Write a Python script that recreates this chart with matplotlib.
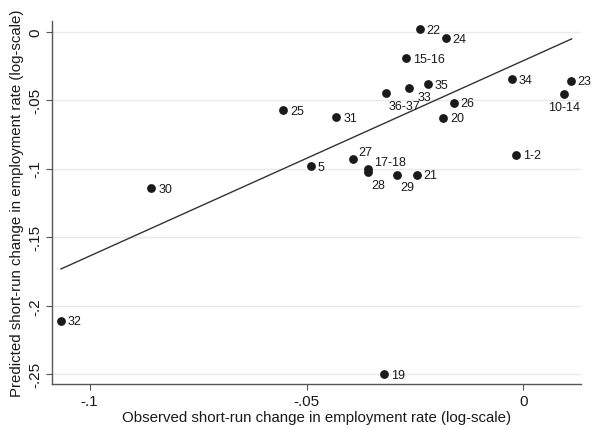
import matplotlib
matplotlib.use("Agg")
import matplotlib.pyplot as plt

plt.rcParams['font.family'] = ['Liberation Sans', 'DejaVu Sans']

# industry groups: observed vs predicted short-run change (log-scale)
labels = ['22', '24', '15-16', '35', '33', '36-37', '34', '23', '10-14', '26',
          '20', '25', '31', '27', '5', '17-18', '28', '29', '21', '1-2',
          '30', '32', '19']
observed = [-0.0239, -0.0179, -0.0271, -0.0220, -0.0264, -0.0318, -0.0027,
            0.0109, 0.0094, -0.0161, -0.0185, -0.0554, -0.0431, -0.0394,
            -0.0490, -0.0358, -0.0358, -0.0292, -0.0246, -0.0017, -0.0858,
            -0.1066, -0.0321]
predicted = [0.0018, -0.0048, -0.0194, -0.0382, -0.0413, -0.0445, -0.0345,
             -0.0358, -0.0457, -0.0518, -0.0628, -0.0574, -0.0623, -0.0929,
             -0.0980, -0.1000, -0.1025, -0.1044, -0.1044, -0.0898, -0.1141,
             -0.2110, -0.2498]

# fitted line endpoints
fit_x = [-0.1066, 0.0111]
fit_y = [-0.1732, -0.0053]

xticks = [-0.1, -0.05, 0]
xticklabels = ['-.1', '-.05', '0']
yticks = [-0.25, -0.2, -0.15, -0.1, -0.05, 0]
yticklabels = ['-.25', '-.2', '-.15', '-.1', '-.05', '0']

# marker label placement, default is to the right of the marker
label_pos = {'36-37': 'below_low', '33': 'below_tight', '28': 'below',
             '29': 'below', '10-14': 'under', '27': 'above', '17-18': 'above'}
offsets = {'right': ((5, -0.5), 'left'),
           'below': ((2.5, -9), 'left'),
           'below_low': ((2, -9.5), 'left'),
           'below_tight': ((6.5, -6), 'left'),
           'under': ((0, -9), 'center'),
           'above': ((4.5, 5), 'left')}

fig = plt.figure(figsize=(5.92, 4.31), dpi=100)
ax = fig.add_axes([0.0883, 0.1056, 0.8927, 0.8441])

for y in yticks:
    ax.axhline(y, color='#eaeaea', lw=1.0, zorder=0)

ax.plot(fit_x, fit_y, color='#333333', lw=1.0, zorder=2)
ax.scatter(observed, predicted, s=40, color='#1a1a1a', zorder=3, linewidths=0)

for lab, x, y in zip(labels, observed, predicted):
    (dx, dy), ha = offsets[label_pos.get(lab, 'right')]
    ax.annotate(lab, (x, y), xytext=(dx, dy), textcoords='offset points',
                ha=ha, va='center', fontsize=9, color='#1a1a1a')

ax.set_xlim(-0.1086, 0.0132)
ax.set_ylim(-0.2575, 0.008)
ax.set_xticks(xticks)
ax.set_xticklabels(xticklabels)
ax.set_yticks(yticks)
ax.set_yticklabels(yticklabels, rotation=90, va='center')
ax.tick_params(direction='out', length=4, width=0.8, color='#555555',
               labelsize=11, labelcolor='#1a1a1a', pad=3)

for side in ['top', 'right']:
    ax.spines[side].set_visible(False)
for side in ['left', 'bottom']:
    ax.spines[side].set_color('#555555')
    ax.spines[side].set_linewidth(1.0)

ax.set_xlabel('Observed short-run change in employment rate (log-scale)',
              fontsize=10.8, color='#1a1a1a', labelpad=1)
ax.set_ylabel('Predicted short-run change in employment rate (log-scale)',
              fontsize=10.8, color='#1a1a1a', labelpad=3)

fig.savefig('out.png', dpi=100)
